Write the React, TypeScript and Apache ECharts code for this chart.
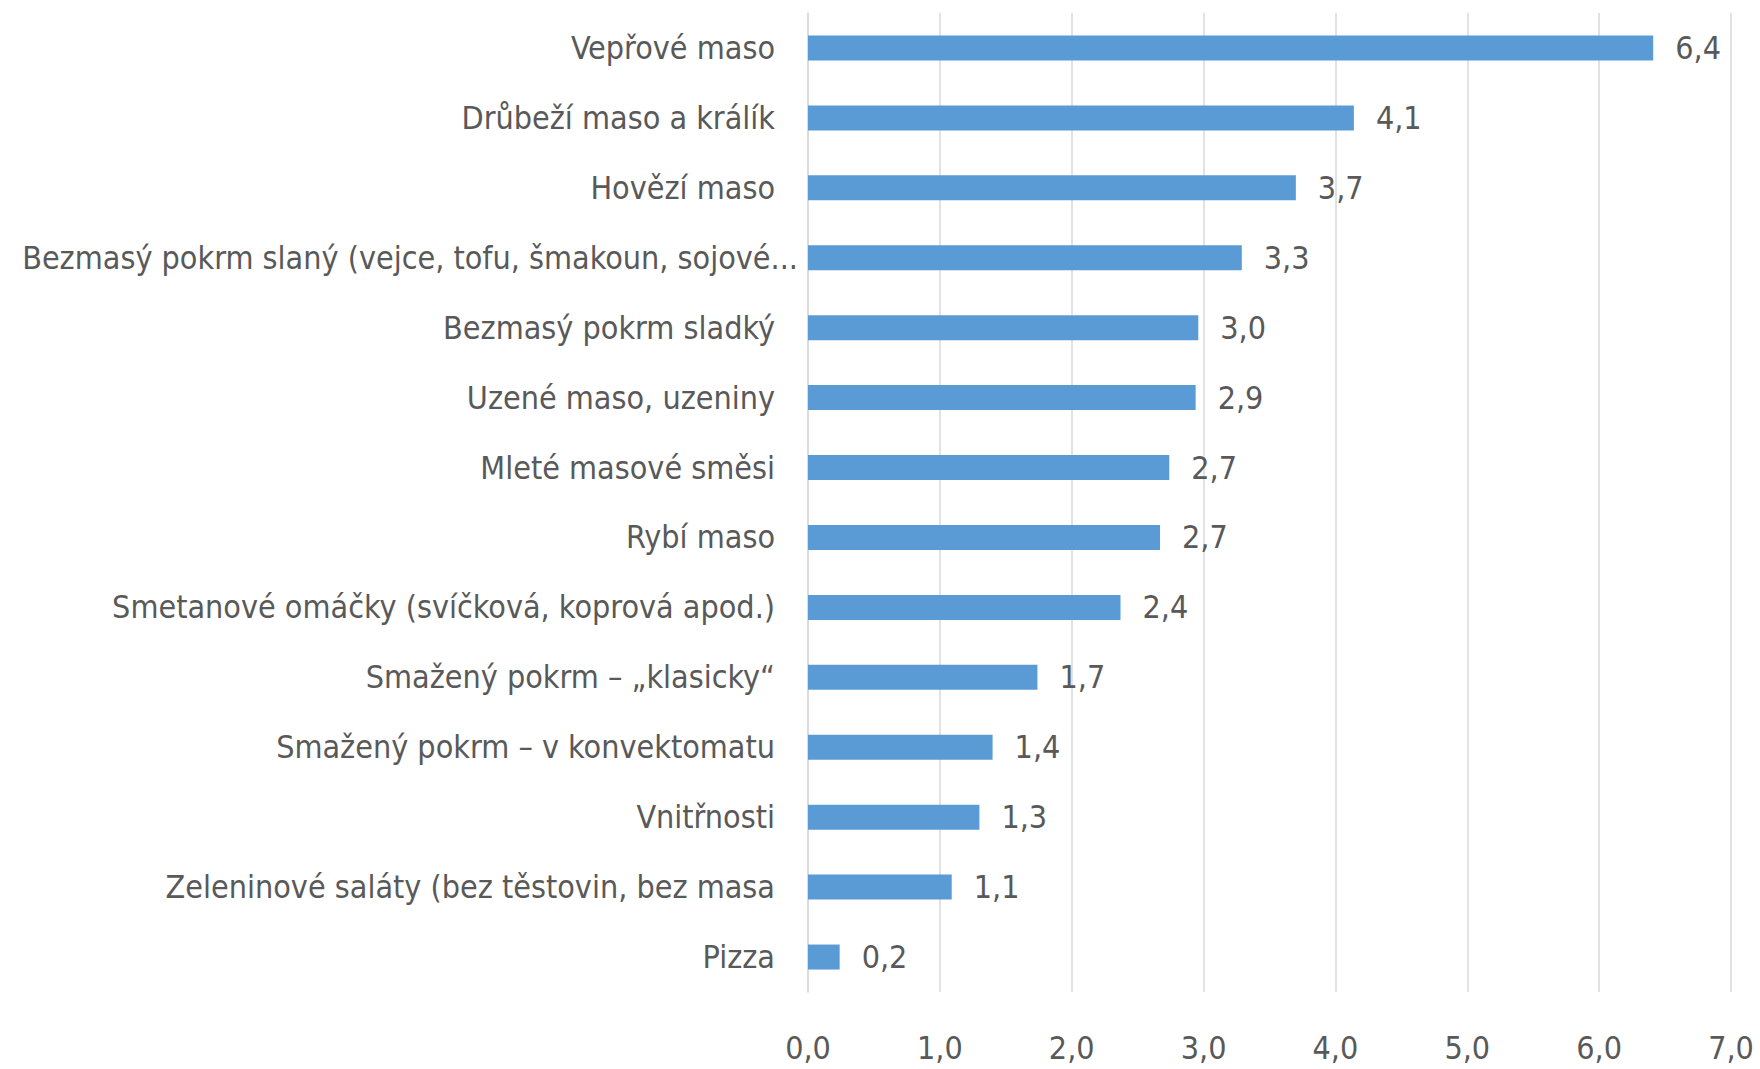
import React, { useEffect, useRef } from "react";
import * as echarts from "echarts";

const categories: string[] = [
  "Vepřové maso",
  "Drůbeží maso a králík",
  "Hovězí maso",
  "Bezmasý pokrm slaný (vejce, tofu, šmakoun, sojové...",
  "Bezmasý pokrm sladký",
  "Uzené maso, uzeniny",
  "Mleté masové směsi",
  "Rybí maso",
  "Smetanové omáčky (svíčková, koprová apod.)",
  "Smažený pokrm – „klasicky“",
  "Smažený pokrm – v konvektomatu",
  "Vnitřnosti",
  "Zeleninové saláty (bez těstovin, bez masa",
  "Pizza",
];

const values: number[] = [6.41, 4.14, 3.7, 3.29, 2.96, 2.94, 2.74, 2.67, 2.37, 1.74, 1.4, 1.3, 1.09, 0.24];

const xTicks = { min: 0, max: 7, interval: 1 };

const FONT = '"DejaVu Sans Condensed", "Liberation Sans Narrow", sans-serif';
const TEXT = "#595959";
const FS = 32;

const fmt = (v: number) => v.toFixed(1).replace(".", ",");

export default function App() {
  const ref = useRef<HTMLDivElement>(null);
  useEffect(() => {
    if (!ref.current) return;
    const chart = echarts.init(ref.current, null, { renderer: "svg" });
    chart.setOption({
      animation: false,
      backgroundColor: "#ffffff",
      grid: { left: 808, right: 29, top: 13, bottom: 77, containLabel: false, outerBoundsMode: "none" },
      xAxis: {
        type: "value",
        min: xTicks.min,
        max: xTicks.max,
        interval: xTicks.interval,
        axisLine: { show: false },
        axisTick: { show: false },
        splitLine: { show: true, lineStyle: { color: "#d9d9d9", width: 1.5 } },
        axisLabel: {
          margin: 40,
          color: TEXT,
          fontFamily: FONT,
          fontSize: FS,
          formatter: (v: number) => fmt(v),
        },
      },
      yAxis: {
        type: "category",
        inverse: true,
        data: categories,
        axisLine: { show: true, lineStyle: { color: "#d9d9d9", width: 1.5 } },
        axisTick: { show: false },
        axisLabel: {
          margin: 10,
          color: TEXT,
          fontFamily: FONT,
          fontSize: FS,
          formatter: (v: string) => (v.endsWith("...") ? `{b|${v}}` : `{a|${v}}`),
          rich: {
            a: { color: TEXT, fontFamily: FONT, fontSize: FS, padding: [0, 23, 0, 0] },
            b: { color: TEXT, fontFamily: FONT, fontSize: FS },
          },
        },
      },
      series: [
        {
          type: "bar",
          data: values,
          barWidth: 25,
          itemStyle: { color: "#5b9bd5" },
          label: {
            show: true,
            position: "right",
            distance: 22,
            color: TEXT,
            fontFamily: FONT,
            fontSize: FS,
            formatter: (p: any) => fmt(p.value),
          },
        },
      ],
    });
    return () => chart.dispose();
  }, []);
  return (
    <div
      ref={ref}
      style={{ position: "fixed", left: 0, top: 0, width: 1760, height: 1069, background: "#fff" }}
    />
  );
}
